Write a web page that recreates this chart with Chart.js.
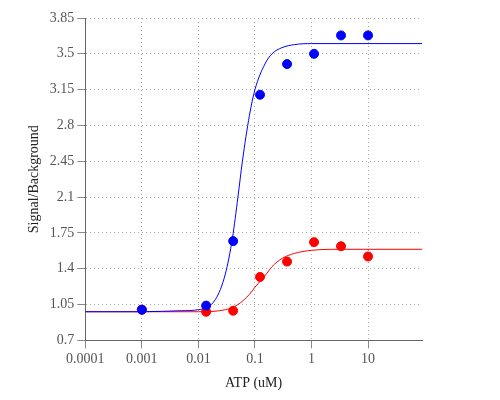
<!DOCTYPE html>
<html lang="en">
<head>
  <meta charset="UTF-8" />
  <title>ATP dose response</title>
  <script src="https://cdn.jsdelivr.net/npm/chart.js"></script>
  <style>
    body { margin: 0; background: #fff; }
    #wrap { width: 500px; height: 400px; }
  </style>
</head>
<body>
  <div id="wrap"><canvas id="atpChart"></canvas></div>

  <script>
    // measured points (3-fold dilutions)
    const doses = [0.001, 0.0137, 0.0412, 0.123, 0.37, 1.11, 3.33, 10];
    const bluePoints = [1.0, 1.04, 1.67, 3.1, 3.4, 3.5, 3.68, 3.68];
    const redPoints = [1.0, 0.98, 0.99, 1.32, 1.47, 1.66, 1.62, 1.52];

    // fitted curves
    const blueCurveX = [0.0001, 0.001, 0.005, 0.01, 0.02, 0.03, 0.04, 0.05, 0.06, 0.08, 0.1, 0.15, 0.2, 0.3, 0.5, 1, 100];
    const blueCurveY = [0.98, 0.98, 0.99, 1.0, 1.1, 1.35, 1.7, 2.1, 2.45, 2.9, 3.15, 3.4, 3.5, 3.56, 3.59, 3.6, 3.6];
    const redCurveX = [0.0001, 0.01, 0.03, 0.05, 0.08, 0.1, 0.15, 0.2, 0.3, 0.5, 1, 3, 100];
    const redCurveY = [0.98, 0.98, 1.0, 1.05, 1.15, 1.22, 1.33, 1.42, 1.5, 1.55, 1.58, 1.59, 1.59];

    const xTicks = [0.0001, 0.001, 0.01, 0.1, 1, 10];
    const yTicks = [0.7, 1.05, 1.4, 1.75, 2.1, 2.45, 2.8, 3.15, 3.5, 3.85];

    const pts = (xs, ys) => xs.map((x, i) => ({ x: x, y: ys[i] }));
    const font = { family: "Liberation Serif", size: 14 };

    new Chart(document.getElementById("atpChart"), {
      type: "scatter",
      data: {
        datasets: [
          { data: pts(doses, bluePoints), backgroundColor: "#0000ff", borderColor: "#0000ff", pointRadius: 4.5 },
          { data: pts(doses, redPoints), backgroundColor: "#ff0000", borderColor: "#ff0000", pointRadius: 4.5 },
          { data: pts(blueCurveX, blueCurveY), showLine: true, borderColor: "#0000ff", borderWidth: 1, pointRadius: 0, cubicInterpolationMode: "monotone" },
          { data: pts(redCurveX, redCurveY), showLine: true, borderColor: "#ff0000", borderWidth: 1, pointRadius: 0, cubicInterpolationMode: "monotone" }
        ]
      },
      options: {
        responsive: true,
        maintainAspectRatio: false,
        animation: false,
        layout: { padding: { top: 18, right: 78, left: 22, bottom: 4 } },
        plugins: { legend: { display: false }, tooltip: { enabled: false } },
        scales: {
          x: {
            type: "logarithmic",
            min: 0.0001,
            max: 90,
            afterBuildTicks: axis => { axis.ticks = xTicks.map(v => ({ value: v })); },
            ticks: { color: "#555", font: font, callback: v => String(v), maxRotation: 0 },
            grid: { color: "#aaa", tickColor: "#888" },
            border: { display: true, color: "#666", dash: [1, 3] },
            title: { display: true, text: "ATP (uM)", color: "#222", font: font }
          },
          y: {
            min: 0.7,
            max: 3.85,
            afterBuildTicks: axis => { axis.ticks = yTicks.map(v => ({ value: v })); },
            ticks: { color: "#555", font: font, callback: v => String(Math.round(v * 100) / 100) },
            grid: { color: "#aaa", tickColor: "#888" },
            border: { display: true, color: "#666", dash: [1, 3] },
            title: { display: true, text: "Signal/Background", color: "#222", font: font }
          }
        }
      }
    });
  </script>
</body>
</html>
